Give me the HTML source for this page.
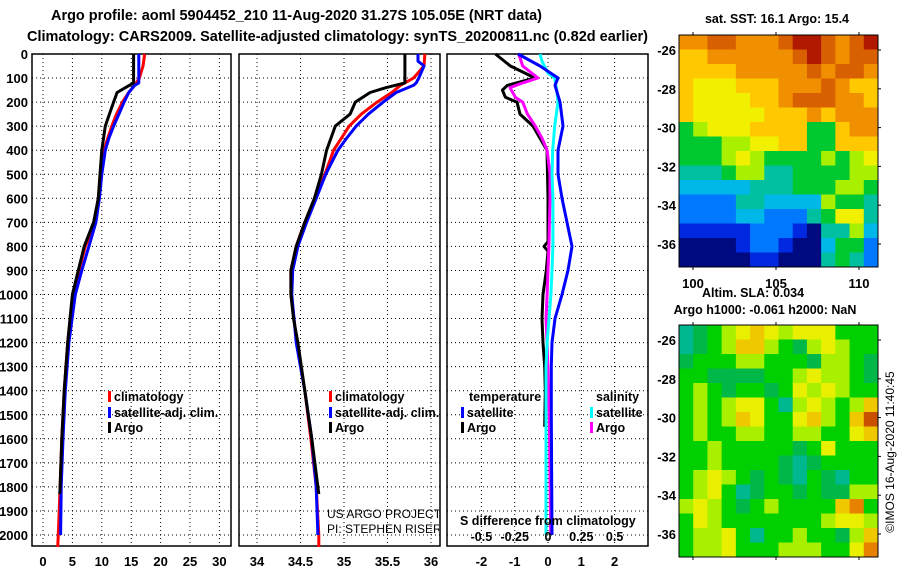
<!DOCTYPE html>
<html><head><meta charset="utf-8">
<style>
html,body{margin:0;padding:0;background:#fff;}
svg{display:block;font-family:"Liberation Sans",sans-serif;}
.b{font-weight:bold;font-size:13px;}
.l{font-weight:bold;font-size:12.5px;}
.t{font-weight:bold;font-size:15px;}
.n{font-size:12px;}
</style></head>
<body>
<svg id="fig" width="900" height="580" viewBox="0 0 900 580" xmlns="http://www.w3.org/2000/svg">
<text class="t" x="51" y="20" textLength="491" lengthAdjust="spacingAndGlyphs">Argo profile: aoml 5904452_210 11-Aug-2020 31.27S 105.05E (NRT data)</text>
<text class="t" x="27" y="41" textLength="621" lengthAdjust="spacingAndGlyphs">Climatology: CARS2009. Satellite-adjusted climatology: synTS_20200811.nc (0.82d earlier)</text>
<g id="layer"></g>
</svg>
<script>
// ---------------- data ----------------
const depthTicks=[0,100,200,300,400,500,600,700,800,900,1000,1100,1200,1300,1400,1500,1600,1700,1800,1900,2000];
const tTicks=[0,5,10,15,20,25,30];
const sTicks=[34,34.5,35,35.5,36];
const sTickLabels=["34","34.5","35","35.5","36"];
const dTicks=[-2,-1,0,1,2];
const dsTickLabels=["-0.5","-0.25","0","0.25","0.5"];
const dsTickVals=[-0.5,-0.25,0,0.25,0.5];

const argoDepth=[0,120,140,160,200,250,300,400,500,600,700,800,900,1000,1100,1200,1400,1600,1800,1830];
const argoT=[15.4,15.4,14.0,12.6,12.0,11.3,10.6,10.0,9.7,9.4,8.6,7.0,6.0,5.0,4.6,4.2,3.6,3.2,2.9,2.85];
const argoS=[35.70,35.70,35.48,35.30,35.13,35.07,34.90,34.80,34.74,34.66,34.55,34.45,34.39,34.39,34.42,34.47,34.55,34.63,34.70,34.71];
const climDepth=[0,50,100,130,160,200,250,300,350,400,500,600,700,800,900,1000,1200,1400,1600,1800,2000,2050];
const climT=[17.3,17.0,16.4,15.6,14.6,13.5,12.5,11.7,11.0,10.4,9.8,9.4,8.8,7.2,6.1,5.1,4.2,3.6,3.2,2.9,2.6,2.5];
const climS=[35.93,35.92,35.80,35.65,35.55,35.38,35.20,35.06,34.97,34.88,34.78,34.67,34.55,34.45,34.39,34.39,34.46,34.55,34.62,34.68,34.71,34.71];
const satDepth=[0,30,50,100,120,130,160,200,250,300,350,400,500,600,700,800,900,1000,1200,1400,1600,1800,2000];
const satT=[16.3,16.3,16.3,16.3,16.3,15.6,14.6,13.8,12.9,12.0,11.2,10.6,10.0,9.6,9.0,7.8,6.6,5.5,4.4,3.8,3.4,3.1,3.0];
const satS=[35.85,35.85,35.92,35.86,35.83,35.80,35.60,35.45,35.28,35.14,35.03,34.93,34.79,34.68,34.57,34.47,34.41,34.40,34.45,34.55,34.63,34.68,34.70];

const dTDepthArgo=[0,50,100,130,150,180,200,250,300,350,400,600,780,800,820,900,1000,1100,1200,1300,1400,1550];
const dTArgo=[-1.58,-1.13,-0.39,-1.22,-1.37,-1.28,-0.93,-0.84,-0.45,-0.24,-0.03,0.0,0.0,-0.12,0.0,-0.05,-0.15,-0.18,-0.15,-0.1,-0.08,-0.1];
const dDepthSat=[0,50,100,130,200,300,400,500,600,700,800,900,1000,1100,1200,1300,1500,2000];
const dTSat=[-0.9,-0.24,0.3,0.21,0.36,0.45,0.3,0.3,0.42,0.57,0.72,0.6,0.42,0.21,0.12,0.1,0.1,0.12];
const dSDepthArgo=[0,50,100,120,140,180,200,250,300,350,400,500,600,800,1000,1100,1200,1500,2000];
const dSArgo=[-0.22,-0.19,-0.075,-0.19,-0.285,-0.245,-0.19,-0.155,-0.095,-0.045,-0.007,0.015,0.015,0.007,-0.007,-0.015,-0.007,0.01,0.02];
const dSDepthSat=[0,30,80,100,150,200,300,400,500,600,800,900,1000,1200,1300,2000];
const dSSat=[-0.06,-0.045,0.0,0.05,0.065,0.075,0.05,0.035,0.03,0.037,0.037,0.03,0.022,-0.007,-0.015,-0.015];

// SST map grid (colour index 0..11), 14 cols x 16 rows
const sstGrid=[
[9,9,10,10,9,9,9,10,11,11,10,9,10,11],
[8,8,9,9,9,9,9,9,10,11,10,9,10,10],
[8,8,8,8,9,9,9,9,9,10,9,10,10,9],
[8,7,7,7,8,8,8,9,9,9,10,9,8,8],
[8,7,7,7,7,8,8,9,10,10,10,9,9,8],
[8,7,7,7,7,7,8,8,8,9,8,9,9,9],
[5,6,7,7,7,8,8,8,8,5,5,8,9,9],
[5,5,5,6,6,7,7,8,8,5,5,8,8,8],
[5,5,5,6,7,6,5,5,5,5,6,5,6,7],
[4,4,4,5,6,6,4,4,5,5,5,5,6,6],
[3,3,3,3,3,4,4,4,5,5,5,6,6,5],
[2,2,2,2,4,4,3,3,3,3,6,5,5,4],
[2,2,2,2,3,3,2,2,2,4,5,7,7,4],
[1,1,1,1,1,2,2,2,1,0,4,4,6,3],
[0,0,0,0,1,2,2,1,0,0,3,5,5,2],
[0,0,0,0,0,1,1,0,0,0,4,5,4,2]];
const sstColors=["#000a80","#0028e0","#0078ff","#00b8e8","#00c0a0","#00c830","#a8f000","#f0f000","#ffc800","#f09000","#d86000","#b01800"];
// SLA map grid (colour index 0..8)
const slaGrid=[
[1,2,3,4,5,6,5,4,5,5,5,3,3,3],
[1,2,3,4,6,6,4,3,2,4,5,4,3,3],
[2,3,3,3,4,4,3,3,3,2,4,4,3,2],
[3,3,2,2,2,2,3,3,4,5,4,4,3,2],
[3,4,3,2,3,3,2,3,5,4,5,4,3,3],
[3,4,3,4,5,5,3,1,4,5,4,3,4,6],
[3,4,3,4,6,5,3,3,5,6,4,3,6,8],
[3,4,3,3,4,4,3,3,4,4,3,3,5,6],
[3,3,4,3,3,3,3,3,2,3,5,3,3,3],
[3,3,4,3,3,3,3,2,1,2,3,3,3,3],
[3,4,5,4,3,2,3,2,1,3,2,1,3,3],
[3,4,5,3,1,2,3,3,2,3,2,2,4,4],
[4,5,4,3,2,3,4,3,3,3,3,6,7,3],
[3,5,4,3,3,3,3,3,3,3,4,5,5,4],
[3,4,4,5,3,1,3,3,4,3,3,2,4,6],
[3,4,4,5,3,3,3,4,4,4,3,3,5,7]];
const slaColors=["#00d0b0","#00b890","#00b848","#00d000","#a8f000","#e8f000","#f0c800","#e88000","#c85000"];
const latTicks=[-26,-28,-30,-32,-34,-36];
const lonTicks=[100,105,110];

// ---------------- drawing ----------------
const NS="http://www.w3.org/2000/svg";
const L=document.getElementById('layer');
function mk(tag,attrs,parent){const e=document.createElementNS(NS,tag);for(const k in attrs)e.setAttribute(k,attrs[k]);(parent||L).appendChild(e);return e;}
const yTop=54, pxPerM=0.2405;
const yD=d=>yTop+d*pxPerM;
const bottom=546;
const panels=[
 {x0:32,x1:231,f:v=>43+v*5.88,ticks:tTicks,labels:tTicks.map(String),name:'temperature'},
 {x0:239,x1:440,f:v=>257+(v-34)*87,ticks:sTicks,labels:sTickLabels,name:'salinity'},
 {x0:447,x1:648,f:v=>548+v*33.3,ticks:dTicks,labels:dTicks.map(String),name:'difference'}];
panels.forEach((p,i)=>{
  const g=mk('g',{});
  
  
  depthTicks.forEach(d=>{const l=mk('line',{x1:p.x0,x2:p.x1,y1:yD(d),y2:yD(d),stroke:'#000','stroke-width':1,'stroke-dasharray':'1,3'},g);
    });
  p.ticks.forEach((v,j)=>{const x=p.f(v);const l=mk('line',{x1:x,x2:x,y1:yTop,y2:bottom,stroke:'#000','stroke-width':1,'stroke-dasharray':'1,3'},g);
    
    const t=mk('text',{x:x,y:566,'text-anchor':'middle',class:'b'},g);t.textContent=p.labels[j];
    });
  const r=mk('rect',{x:p.x0,y:yTop,width:p.x1-p.x0,height:bottom-yTop,fill:'none',stroke:'#000','stroke-width':1.5},g);
  
});
depthTicks.forEach(d=>{const t=mk('text',{x:28,y:yD(d)+5,'text-anchor':'end',class:'b'});t.textContent=String(d);
  });
function line(depths,vals,f,color,name,w){
  const pts=depths.map((d,i)=>f(vals[i]).toFixed(1)+','+yD(d).toFixed(1)).join(' ');
  const e=mk('polyline',{points:pts,fill:'none',stroke:color,'stroke-width':w||3,'stroke-linejoin':'round'});
  return e;}
const P=panels;
line(climDepth,climT,P[0].f,'#ff0000','temp-climatology-line');
line(satDepth,satT,P[0].f,'#0000ff','temp-satellite-line');
line(argoDepth,argoT,P[0].f,'#000','temp-argo-line');
line(climDepth,climS,P[1].f,'#ff0000','sal-climatology-line');
line(satDepth,satS,P[1].f,'#0000ff','sal-satellite-line');
line(argoDepth,argoS,P[1].f,'#000','sal-argo-line');
const fS=v=>P[2].f(v*4);
line(dTDepthArgo,dTArgo,P[2].f,'#000','dt-argo-line');
line(dSDepthArgo,dSArgo,fS,'#ff00ff','ds-argo-line');
line(dSDepthSat,dSSat,fS,'#00ffff','ds-satellite-line');
line(dDepthSat,dTSat,P[2].f,'#0000ff','dt-satellite-line');

function legend(x,y,color,txt,name){
  const m=mk('rect',{x:x,y:y-10,width:3,height:11,fill:color});
  
  const t=mk('text',{x:x+6,y:y,class:'l'});t.textContent=txt;
  }
legend(108,401,'#ff0000','climatology','legend-climatology');
legend(108,417,'#0000ff','satellite-adj. clim.','legend-satellite');
legend(108,432,'#000','Argo','legend-argo');
legend(329,401,'#ff0000','climatology','legend2-climatology');
legend(329,417,'#0000ff','satellite-adj. clim.','legend2-satellite');
legend(329,432,'#000','Argo','legend2-argo');
legend(461,417,'#0000ff','satellite','legend3-t-satellite');
legend(461,432,'#000','Argo','legend3-t-argo');
legend(590,417,'#00ffff','satellite','legend3-s-satellite');
legend(590,432,'#ff00ff','Argo','legend3-s-argo');
function txt(x,y,s,cls,name,anchor){const t=mk('text',{x:x,y:y,class:cls,'text-anchor':anchor||'start'});t.textContent=s;
  return t;}
txt(469,401,'temperature','l','legend-temperature-heading');
txt(596,401,'salinity','l','legend-salinity-heading');
txt(460,525,'S difference from climatology','l','s-difference-title');
dsTickVals.forEach((v,i)=>txt(fS(v),541,dsTickLabels[i],'l','s-difference-tick','middle'));
const clip=mk('clipPath',{id:'c2'});mk('rect',{x:239,y:yTop,width:200,height:500},clip);
const tg=mk('g',{'clip-path':'url(#c2)'});
const t1=mk('text',{x:327,y:518,class:'n'},tg);t1.textContent='US ARGO PROJECT';

const t2=mk('text',{x:327,y:533,class:'n'},tg);t2.textContent='PI: STEPHEN RISER';


// maps
function map(grid,colors,y0,y1,name,latY){
  const x0=679,x1=878,nr=grid.length,nc=grid[0].length;
  const cw=(x1-x0)/nc,ch=(y1-y0)/nr;
  const g=mk('g',{});
  grid.forEach((row,r)=>row.forEach((v,c)=>{
    const e=mk('rect',{x:(x0+c*cw).toFixed(2),y:(y0+r*ch).toFixed(2),width:(cw+0.5).toFixed(2),height:(ch+0.5).toFixed(2),fill:colors[v]},g);
    }));
  const f=mk('rect',{x:x0,y:y0,width:x1-x0,height:y1-y0,fill:'none',stroke:'#000','stroke-width':1},g);
  
  latTicks.forEach(l=>{const y=latY(l);
    const t=mk('text',{x:676,y:y+5,'text-anchor':'end',class:'b'},g);t.textContent=String(l);
    
    mk('line',{x1:x1,x2:x1+3,y1:y,y2:y,stroke:'#000'},g);});
  const lonX=lo=>693+(lo-100)*16.6;
  lonTicks.forEach(lo=>{mk('line',{x1:lonX(lo),x2:lonX(lo),y1:y0-3,y2:y0,stroke:'#000'},g);mk('line',{x1:lonX(lo),x2:lonX(lo),y1:y1,y2:y1+3,stroke:'#000'},g);});
  return lonX;}
const lonX=map(sstGrid,sstColors,35,267,'sst-map',l=>50+(-26-l)*19.4);
map(slaGrid,slaColors,325,557,'sla-map',l=>340+(-26-l)*19.4);
lonTicks.forEach(lo=>txt(lonX(lo),288,String(lo),'b','lon-tick-label','middle'));
txt(777,23,'sat. SST: 16.1 Argo: 15.4','l','sst-map-title','middle');
txt(753,297,'Altim. SLA: 0.034','l','sla-map-title','middle');
txt(765,314,'Argo h1000: -0.061 h2000: NaN','l','argo-height-title','middle');
const rt=txt(0,0,'©IMOS 16-Aug-2020 11:40:45','n','imos-timestamp','middle');
rt.setAttribute('transform','translate(894,452) rotate(-90)');
</script>
</body></html>
